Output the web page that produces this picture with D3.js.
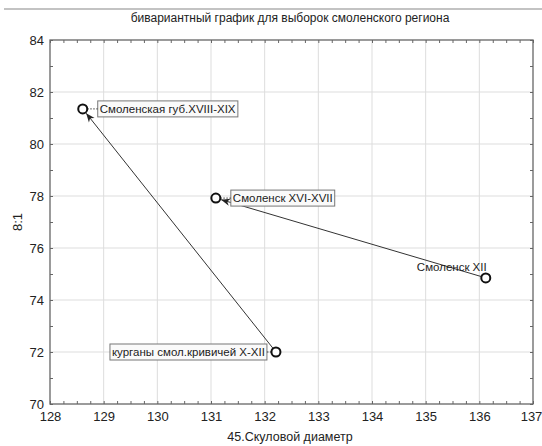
<!DOCTYPE html>
<html>
<head>
<meta charset="utf-8">
<script src="https://cdn.jsdelivr.net/npm/d3@7"></script>
<style>
  body { margin: 0; background: #fff; }
  text { font-family: "Liberation Sans", Arial, sans-serif; fill: #222; }
</style>
</head>
<body>
<div id="chart"></div>
<script>
const width = 542;
const height = 446;

// sample names and their means
const samples = ["Смоленская губ.XVIII-XIX", "Смоленск XVI-XVII", "Смоленск XII", "курганы смол.кривичей X-XII"];
const xValues = [128.61, 131.09, 136.12, 132.21];
const yValues = [81.35, 77.92, 74.85, 72.0];
// arrows: from -> to (index into samples)
const arrowFrom = [3, 2];
const arrowTo = [0, 1];

const xTicks = [128, 129, 130, 131, 132, 133, 134, 135, 136, 137];
const yTicks = [70, 72, 74, 76, 78, 80, 82, 84];

const margin = {left: 50, right: 9, top: 40, bottom: 42};
const x = d3.scaleLinear().domain([128, 137]).range([margin.left, width - margin.right]);
const y = d3.scaleLinear().domain([70, 84]).range([height - margin.bottom, margin.top]);

const svg = d3.select("#chart").append("svg")
    .attr("width", width)
    .attr("height", height);

svg.append("defs").append("marker")
    .attr("id", "arrow")
    .attr("viewBox", "0 0 10 10")
    .attr("refX", 10).attr("refY", 5)
    .attr("markerWidth", 9).attr("markerHeight", 9)
    .attr("markerUnits", "userSpaceOnUse")
    .attr("orient", "auto")
    .append("path")
    .attr("d", "M0,1 L10,5 L0,9 L3,5 Z")
    .attr("fill", "#222");

// top rule
svg.append("line")
    .attr("x1", 4).attr("x2", width).attr("y1", 9).attr("y2", 9)
    .attr("stroke", "#888").attr("stroke-width", 1.2);

svg.append("text")
    .attr("x", 290).attr("y", 22)
    .attr("text-anchor", "middle")
    .style("font-size", "12px")
    .text("бивариантный график для выборок смоленского региона");

// grid
const g = svg.append("g");
g.selectAll(".gx").data(xTicks.slice(1, -1)).join("line")
    .attr("x1", d => x(d)).attr("x2", d => x(d))
    .attr("y1", y(70)).attr("y2", y(84))
    .attr("stroke", "#ddd");
g.selectAll(".gy").data(yTicks.slice(1, -1)).join("line")
    .attr("y1", d => y(d)).attr("y2", d => y(d))
    .attr("x1", x(128)).attr("x2", x(137))
    .attr("stroke", "#ddd");

// axes with inner ticks on all four sides
const xMinor = d3.range(128, 137.001, 0.25);
const yMinor = d3.range(70, 84.001, 1);
const axStyle = sel => {
  sel.select(".domain").remove();
  sel.selectAll("line").attr("stroke", "#666");
  sel.selectAll("text").style("font-size", "13px").attr("fill", "#222");
};
svg.append("g").attr("transform", `translate(0,${y(70)})`)
    .call(d3.axisBottom(x).tickValues(xMinor).tickSizeInner(-3).tickSizeOuter(0).tickFormat(""))
    .call(axStyle);
svg.append("g").attr("transform", `translate(0,${y(70)})`)
    .call(d3.axisBottom(x).tickValues(xTicks).tickSize(0).tickPadding(8).tickFormat(d3.format("d")))
    .call(axStyle)
    .selectAll("text").filter(d => d === 137).attr("dx", -2);
svg.append("g").attr("transform", `translate(0,${y(84)})`)
    .call(d3.axisTop(x).tickValues(xMinor).tickSizeInner(-3).tickSizeOuter(0).tickFormat(""))
    .call(axStyle);
svg.append("g").attr("transform", `translate(${x(128)},0)`)
    .call(d3.axisLeft(y).tickValues(yMinor).tickSizeInner(-3).tickSizeOuter(0).tickFormat(""))
    .call(axStyle);
svg.append("g").attr("transform", `translate(${x(128)},0)`)
    .call(d3.axisLeft(y).tickValues(yTicks).tickSize(0).tickPadding(6).tickFormat(d3.format("d")))
    .call(axStyle);
svg.append("g").attr("transform", `translate(${x(137)},0)`)
    .call(d3.axisRight(y).tickValues(yMinor).tickSizeInner(-3).tickSizeOuter(0).tickFormat(""))
    .call(axStyle);

svg.append("rect")
    .attr("x", x(128)).attr("y", y(84))
    .attr("width", x(137) - x(128)).attr("height", y(70) - y(84))
    .attr("fill", "none").attr("stroke", "#666").attr("stroke-width", 1.3);

svg.append("text")
    .attr("x", 290).attr("y", 441)
    .attr("text-anchor", "middle")
    .style("font-size", "12.5px")
    .text("45.Скуловой диаметр");
svg.append("text")
    .attr("transform", "translate(22,222) rotate(-90)")
    .attr("text-anchor", "middle")
    .style("font-size", "13px")
    .text("8:1");

// arrows
const r = 4.5;
arrowFrom.forEach((f, i) => {
  const t = arrowTo[i];
  const x1 = x(xValues[f]), y1 = y(yValues[f]);
  const x2 = x(xValues[t]), y2 = y(yValues[t]);
  const len = Math.hypot(x2 - x1, y2 - y1);
  const ux = (x2 - x1) / len, uy = (y2 - y1) / len;
  svg.append("line")
      .attr("x1", x1 + ux * r).attr("y1", y1 + uy * r)
      .attr("x2", x2 - ux * (r + 1)).attr("y2", y2 - uy * (r + 1))
      .attr("stroke", "#333").attr("stroke-width", 1)
      .attr("marker-end", "url(#arrow)");
});

// labels: offset of box from point, side
const labelPos = [
  {dx: 17, anchor: "start", box: true},
  {dx: 17, anchor: "start", box: true},
  {dx: -34, dy: -11, anchor: "middle", box: false},
  {dx: -11, anchor: "end", box: true}
];

samples.forEach((s, i) => {
  const px = x(xValues[i]), py = y(yValues[i]);
  const p = labelPos[i];
  const lg = svg.append("g");
  const rect = lg.append("rect");
  const t = lg.append("text")
      .attr("x", px + p.dx).attr("y", py + (p.dy || 0) + 4)
      .attr("text-anchor", p.anchor)
      .style("font-size", "11.5px")
      .text(s);
  if (p.box) {
    const b = t.node().getBBox();
    rect.attr("x", b.x - 2).attr("y", py - 8)
        .attr("width", b.width + 4).attr("height", 16)
        .attr("fill", "#fafafa").attr("stroke", "#777").attr("stroke-width", 1);
    const bx = p.anchor === "start" ? b.x - 2 : b.x + b.width + 2;
    lg.append("line")
        .attr("x1", p.anchor === "start" ? px + r : px - r).attr("x2", bx)
        .attr("y1", py).attr("y2", py)
        .attr("stroke", "#444").attr("stroke-dasharray", "1.5,1.5");
  } else {
    rect.remove();
  }
  lg.append("circle")
      .attr("cx", px).attr("cy", py).attr("r", r)
      .attr("fill", "#fff").attr("stroke", "#111").attr("stroke-width", 2);
});
</script>
</body>
</html>
